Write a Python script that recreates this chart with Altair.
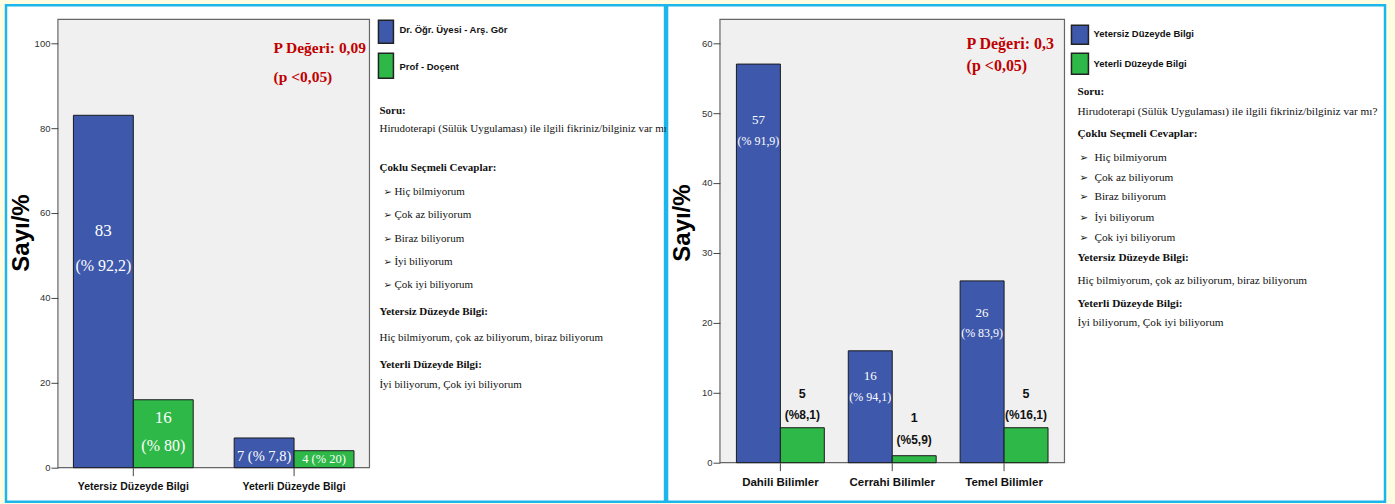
import altair as alt
import pandas as pd

BLUE = "#3E58AC"
GREEN = "#2EB848"
RED = "#C00000"
CYAN = "#1DB6EC"
BG = "#FFFDE1"
SERIF = "Liberation Serif, Times New Roman, serif"
SANS = "Liberation Sans, Arial, sans-serif"

# ---------------- data: left panel ----------------
left_categories = ["Yetersiz Düzeyde Bilgi", "Yeterli Düzeyde Bilgi"]
left_series = ["Dr. Öğr. Üyesi - Arş. Gör", "Prof - Doçent"]
left_blue_counts = [83, 7]
left_green_counts = [16, 4]
left_blue_pct = ["% 92,2", "% 7,8"]
left_green_pct = ["% 80", "% 20"]
left_y_ticks = [0, 20, 40, 60, 80, 100]
left_p_value = ["P Değeri: 0,09", "(p <0,05)"]

# ---------------- data: right panel ----------------
right_categories = ["Dahili Bilimler", "Cerrahi Bilimler", "Temel Bilimler"]
right_series = ["Yetersiz Düzeyde Bilgi", "Yeterli Düzeyde Bilgi"]
right_blue_counts = [57, 16, 26]
right_green_counts = [5, 1, 5]
right_blue_pct = ["% 91,9", "% 94,1", "% 83,9"]
right_green_pct = ["%8,1", "%5,9", "%16,1"]
right_y_ticks = [0, 10, 20, 30, 40, 50, 60]
right_p_value = ["P Değeri: 0,3", "(p <0,05)"]

# ---------------- shared notes ----------------
y_title = "Sayı/%"
question_heading = "Soru:"
question_text = "Hirudoterapi (Sülük Uygulaması) ile ilgili fikriniz/bilginiz var mı?"
answers_heading = "Çoklu Seçmeli Cevaplar:"
answer_options = ["Hiç bilmiyorum", "Çok az biliyorum", "Biraz biliyorum", "İyi biliyorum", "Çok iyi biliyorum"]
insufficient_heading = "Yetersiz Düzeyde  Bilgi:"
insufficient_text = "Hiç bilmiyorum, çok az biliyorum, biraz biliyorum"
sufficient_heading = "Yeterli Düzeyde Bilgi:"
sufficient_text = "İyi biliyorum, Çok iyi biliyorum"
bullet = "➢"


def make_df(cats, sers, blue, green, bpct, gpct):
    rows = []
    for i, c in enumerate(cats):
        rows.append(dict(cat=c, ser=sers[0], val=blue[i], pct=bpct[i], key=f"b{i}"))
        rows.append(dict(cat=c, ser=sers[1], val=green[i], pct=gpct[i], key=f"g{i}"))
    return pd.DataFrame(rows)


def txt(s, x, y, size, font, color="#000000", weight="normal", align="left", angle=0):
    return alt.Chart(pd.DataFrame({"t": [s]})).mark_text(
        align=align, baseline="middle", fontSize=size, font=font, color=color,
        fontWeight=weight, angle=angle
    ).encode(x=alt.value(x), y=alt.value(y), text="t:N")


def box(x1, x2, y1, y2, fill, stroke="transparent", sw=0):
    return alt.Chart(pd.DataFrame({"a": [0]})).mark_rect(
        fill=fill, stroke=stroke, strokeWidth=sw
    ).encode(x=alt.value(x1), x2=alt.value(x2), y=alt.value(y1), y2=alt.value(y2))


def panel(df, cats, sers, W, H, ymax, ticks, pin, pout, quarter, xlab_size, label_specs,
          legend_pos, pval, pval_pos, pval_size, notes_pos, note_size, ytitle_pos, extra_front=None):
    x = alt.X("cat:N", sort=cats, title=None,
              scale=alt.Scale(type="band", paddingInner=pin, paddingOuter=pout),
              axis=alt.Axis(labelAngle=0, domain=False, ticks=True, tickSize=8, tickColor="#444444",
                            labelPadding=6, labelFont=SANS, labelFontWeight="bold",
                            labelFontSize=xlab_size, labelColor="#111111", zindex=1))
    y = alt.Y("val:Q", title=None, scale=alt.Scale(domain=[0, ymax], nice=False, zero=True),
              axis=alt.Axis(values=ticks, domain=False, grid=False, tickSize=7, tickColor="#444444",
                            labelFont=SANS, labelFontSize=9.5, labelColor="#333333",
                            labelPadding=1, zindex=1))
    color = alt.Color("ser:N", scale=alt.Scale(domain=sers, range=[BLUE, GREEN]), legend=None)
    layers = []
    if extra_front is not None:
        layers += extra_front
    # panel + plot frame
    px1, px2, py1, py2 = legend_pos["panel"]
    layers.append(box(px1, px2, py1, py2, "#FFFFFF", CYAN, 2.5))
    layers.append(box(0, W, 0, H, "#F0F0F0", "#666666", 1.2))
    # grouped bars: each series takes one half of its category band
    for s, sign in zip(sers, [-1, 1]):
        layers.append(
            alt.Chart(df).transform_filter(alt.datum.ser == s)
            .mark_bar(width={"band": 0.5}, xOffset=sign * quarter, stroke="#1a1a1a", strokeWidth=1)
            .encode(x=x, y=y, color=color)
        )
    # bar labels
    for key, expr, dy, color_t, size, font, weight in label_specs:
        sign = -1 if key.startswith("b") else 1
        layers.append(
            alt.Chart(df).transform_filter(alt.datum.key == key)
            .transform_calculate(lab=expr)
            .mark_text(baseline="middle", align="center", dy=dy, xOffset=sign * quarter,
                       color=color_t, fontSize=size, font=font, fontWeight=weight)
            .encode(x=x, y=y, text="lab:N")
        )
    # legend
    sx1, sx2 = legend_pos["sx"]
    for (sy1, sy2), col in zip(legend_pos["sy"], [BLUE, GREEN]):
        layers.append(box(sx1, sx2, sy1, sy2, col, "#222222", 1.5))
    for name, ly in zip(sers, legend_pos["ly"]):
        layers.append(txt(name, legend_pos["lx"], ly, legend_pos["lsize"], SANS, "#111111", "bold"))
    # p-value
    for s, yy in zip(pval, pval_pos[1]):
        layers.append(txt(s, pval_pos[0], yy, pval_size, SERIF, RED, "bold"))
    # notes
    hx, bx, btx, ys = notes_pos
    layers.append(txt(question_heading, hx, ys[0], note_size, SERIF, "#111111", "bold"))
    layers.append(txt(question_text, hx, ys[1], note_size, SERIF, "#111111"))
    layers.append(txt(answers_heading, hx, ys[2], note_size, SERIF, "#111111", "bold"))
    for opt, yy in zip(answer_options, ys[3:8]):
        layers.append(txt(bullet, bx, yy, note_size - 1, "DejaVu Sans, sans-serif", "#111111"))
        layers.append(txt(opt, btx, yy, note_size, SERIF, "#111111"))
    layers.append(txt(insufficient_heading, hx, ys[8], note_size, SERIF, "#111111", "bold"))
    layers.append(txt(insufficient_text, hx, ys[9], note_size, SERIF, "#111111"))
    layers.append(txt(sufficient_heading, hx, ys[10], note_size, SERIF, "#111111", "bold"))
    layers.append(txt(sufficient_text, hx, ys[11], note_size, SERIF, "#111111"))
    # y title
    layers.append(txt(y_title, ytitle_pos[0], ytitle_pos[1], 24, SANS, "#000000", "bold",
                      align="center", angle=270))
    return alt.layer(*layers).properties(width=W, height=H)


left_df = make_df(left_categories, left_series, left_blue_counts, left_green_counts,
                  left_blue_pct, left_green_pct)
right_df = make_df(right_categories, right_series, right_blue_counts, right_green_counts,
                   right_blue_pct, right_green_pct)

W1, H1 = 312, 449
W2, H2 = 345, 444

left_labels = [
    ("b0", "'' + datum.val", 116, "#FFFFFF", 17, SERIF, "normal"),
    ("b0", "'(' + datum.pct + ')'", 151, "#FFFFFF", 16, SERIF, "normal"),
    ("g0", "'' + datum.val", 18, "#FFFFFF", 17, SERIF, "normal"),
    ("g0", "'(' + datum.pct + ')'", 46, "#FFFFFF", 16, SERIF, "normal"),
    ("b1", "datum.val + ' (' + datum.pct + ')'", 19, "#FFFFFF", 14.5, SERIF, "normal"),
    ("g1", "datum.val + ' (' + datum.pct + ')'", 8, "#FFFFFF", 12.5, SERIF, "normal"),
]
right_labels = []
for i, (dc, dp) in enumerate([(56, 77), (25, 46), (32, 52)]):
    right_labels.append((f"b{i}", "'' + datum.val", dc, "#FFFFFF", 13, SERIF, "normal"))
    right_labels.append((f"b{i}", "'(' + datum.pct + ')'", dp, "#FFFFFF", 12, SERIF, "normal"))
for i, (dc, dp) in enumerate([(-34, -13), (-38, -16), (-34, -13)]):
    right_labels.append((f"g{i}", "'' + datum.val", dc, "#111111", 12.5, SANS, "bold"))
    right_labels.append((f"g{i}", "'(' + datum.pct + ')'", dp, "#111111", 12, SANS, "bold"))

left = panel(
    left_df, left_categories, left_series, W1, H1, 105.6, left_y_ticks, 0.255, 0.0965, 30, 10.5,
    left_labels,
    {"panel": (-52, 608, -14, 483), "sx": (321, 336), "sy": [(1, 24), (34, 59)],
     "lx": 342, "ly": [11, 48], "lsize": 9.5},
    left_p_value, (216, [29, 58]), 15.5,
    (322, 326, 337, [92, 110, 149, 173, 196, 220, 243, 266, 293, 319, 346, 366]), 11,
    (-36, 214),
    extra_front=[box(-57, 1338, -18, 486, BG)],
)

right = panel(
    right_df, right_categories, right_series, W2, H2, 63.4, right_y_ticks, 0.214, 0.147, 22, 11.5,
    right_labels,
    {"panel": (-53, 666, -14, 483), "sx": (352, 369), "sy": [(6, 25), (34, 55)],
     "lx": 374, "ly": [15, 45], "lsize": 9.5},
    right_p_value, (247, [25, 47]), 16,
    (358, 360, 375, [73, 93, 115, 139, 159, 178, 199, 219, 239, 262, 285, 304]), 11.3,
    (-37, 204),
)

chart = alt.hconcat(left, right, spacing=351, bounds="flush").resolve_scale(
    color="independent", x="independent", y="independent"
).properties(background=BG, padding=0).configure_view(stroke="transparent")

chart.save("out.html", embed_options={"renderer": "svg", "actions": False})
